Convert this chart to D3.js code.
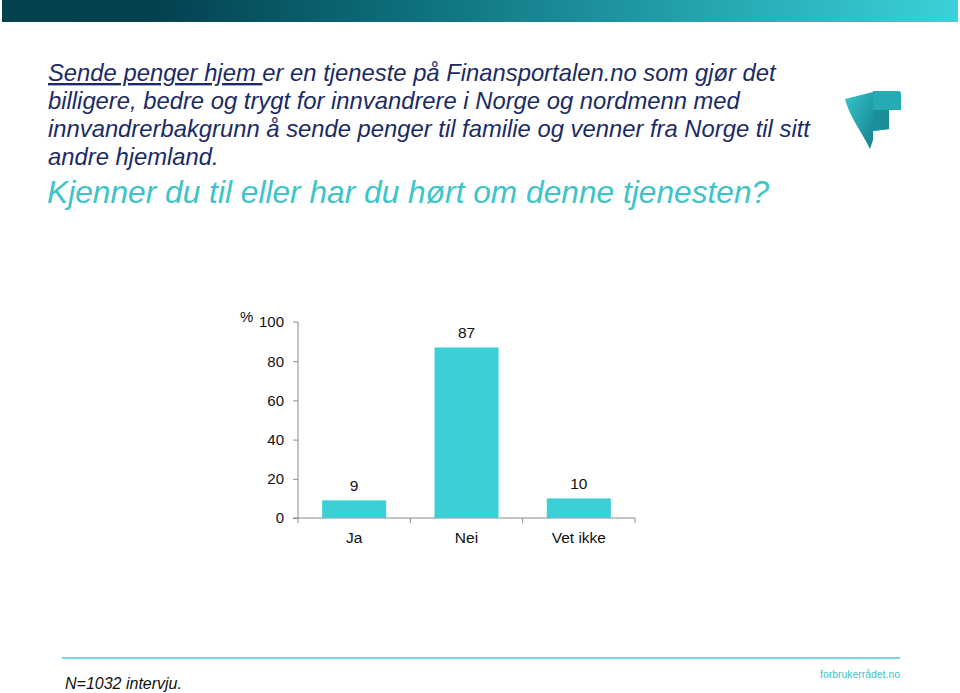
<!DOCTYPE html>
<html><head><meta charset="utf-8">
<script src="https://cdn.jsdelivr.net/npm/d3@7"></script>
<style>body{margin:0;background:#fff}svg{display:block}</style>
</head><body>
<script>
const categories = ["Ja", "Nei", "Vet ikke"];
const values = [9, 87, 10];
const yTicks = [0, 20, 40, 60, 80, 100];
const titleLines = [
  "er en tjeneste på Finansportalen.no som gjør det",
  "billigere, bedre og trygt for innvandrere i Norge og nordmenn med",
  "innvandrerbakgrunn å sende penger til familie og venner fra Norge til sitt",
  "andre hjemland."
];
const titleLink = "Sende penger hjem ";
const question = "Kjenner du til eller har du hørt om denne tjenesten?";
const footnote = "N=1032 intervju.";
const brand = "forbrukerrådet.no";

const W = 960, H = 693;
const svg = d3.select("body").append("svg").attr("width", W).attr("height", H);
const defs = svg.append("defs");
const g1 = defs.append("linearGradient").attr("id", "topbar").attr("x1", "0").attr("x2", "1");
g1.append("stop").attr("offset", "0").attr("stop-color", "#05404f");
g1.append("stop").attr("offset", "0.15").attr("stop-color", "#033f4e");
g1.append("stop").attr("offset", "0.45").attr("stop-color", "#0f7380");
g1.append("stop").attr("offset", "1").attr("stop-color", "#3ad2d8");
svg.append("rect").attr("x", 2).attr("y", 0).attr("width", 956).attr("height", 22).attr("fill", "url(#topbar)");

const font = "Liberation Sans, Arial, sans-serif";
const navy = "#1b2b63";
const tSize = 23.8;
// title
const t0 = svg.append("text").attr("x", 48).attr("y", 81).attr("font-family", font)
  .attr("font-style", "italic").attr("font-size", tSize).attr("fill", navy);
t0.append("tspan").attr("text-decoration", "underline").text(titleLink);
t0.append("tspan").text(titleLines[0]);
titleLines.slice(1).forEach((l, i) => {
  svg.append("text").attr("x", 48).attr("y", 109 + i * 28).attr("font-family", font)
    .attr("font-style", "italic").attr("font-size", tSize).attr("fill", navy).text(l);
});
svg.append("text").attr("x", 47).attr("y", 203).attr("font-family", font)
  .attr("font-style", "italic").attr("font-size", 31.7).attr("fill", "#3cc4c8").text(question);

// logo
const lg = defs.append("linearGradient").attr("id", "logo").attr("x1", "0").attr("y1", "0").attr("x2", "1").attr("y2", "1");
lg.append("stop").attr("offset", "0").attr("stop-color", "#36c6cc");
lg.append("stop").attr("offset", "1").attr("stop-color", "#15828f");
const logo = svg.append("g");
logo.append("path").attr("d", "M845,99 L873,92 L873,140 L870,149 C862,132 850,118 845,99 Z").attr("fill", "url(#logo)");
logo.append("path").attr("d", "M873,91 L898,91 Q901,91 901,94 L901,110 L889,110 L889,129 L873,131 Z").attr("fill", "#26aab3");
logo.append("path").attr("d", "M873,110 L889,110 L889,129 L873,131 Z").attr("fill", "#1b8f99");

// chart
const x0 = 298, x1 = 635, yTop = 322, yBot = 518;
const x = d3.scaleBand().domain(categories).range([x0, x1]).paddingInner(0.43).paddingOuter(0.215);
const y = d3.scaleLinear().domain([0, 100]).range([yBot, yTop]);
const axisColor = "#8a8a8a";

const yAx = svg.append("g").attr("transform", `translate(${x0},0)`)
  .call(d3.axisLeft(y).tickValues(yTicks).tickSize(5).tickPadding(9));
yAx.select(".domain").attr("stroke", axisColor).attr("d", `M-5,${yTop}H0V${yBot}`);
yAx.selectAll(".tick line").attr("stroke", axisColor);
yAx.selectAll(".tick text").attr("font-family", font).attr("font-size", 15).attr("fill", "#111");
yAx.selectAll(".tick").filter(d => d === 100).select("line").remove();

// x axis
const xb = d3.scaleOrdinal().domain(d3.range(4)).range([x0, x0 + (x1 - x0) / 3, x0 + 2 * (x1 - x0) / 3, x1]);
const xAx = svg.append("g").attr("transform", `translate(0,${yBot})`);
xAx.append("line").attr("x1", x0 - 5).attr("x2", x1).attr("stroke", axisColor);
xAx.selectAll("line.t").data(d3.range(4)).join("line").attr("class", "t")
  .attr("x1", d => xb(d)).attr("x2", d => xb(d)).attr("y1", 0).attr("y2", 5).attr("stroke", axisColor);
xAx.selectAll("text").data(categories).join("text")
  .attr("x", d => x(d) + x.bandwidth() / 2).attr("y", 25)
  .attr("text-anchor", "middle").attr("font-family", font).attr("font-size", 15.5).attr("fill", "#111").text(d => d);

svg.append("text").attr("x", 240).attr("y", 322).attr("font-family", font).attr("font-size", 15).attr("fill", "#111").text("%");

svg.selectAll("rect.bar").data(categories).join("rect").attr("class", "bar")
  .attr("x", d => x(d)).attr("width", x.bandwidth())
  .attr("y", (d, i) => y(values[i])).attr("height", (d, i) => yBot - y(values[i]))
  .attr("fill", "#3ccfd6");
svg.selectAll("text.val").data(categories).join("text").attr("class", "val")
  .attr("x", d => x(d) + x.bandwidth() / 2).attr("y", (d, i) => y(values[i]) - 9)
  .attr("text-anchor", "middle").attr("font-family", font).attr("font-size", 15.5).attr("fill", "#111")
  .text((d, i) => values[i]);

// footer
svg.append("line").attr("x1", 62).attr("x2", 900).attr("y1", 658).attr("y2", 658).attr("stroke", "#48cfd3").attr("stroke-width", 1.5);
svg.append("text").attr("x", 65).attr("y", 689).attr("font-family", font).attr("font-style", "italic")
  .attr("font-size", 16).attr("fill", "#111").text(footnote);
svg.append("text").attr("x", 900).attr("y", 678).attr("text-anchor", "end").attr("font-family", font)
  .attr("font-size", 11).attr("fill", "#3cc4c8").attr("textLength", 80).attr("lengthAdjust", "spacingAndGlyphs").text(brand);
</script>
</body></html>
